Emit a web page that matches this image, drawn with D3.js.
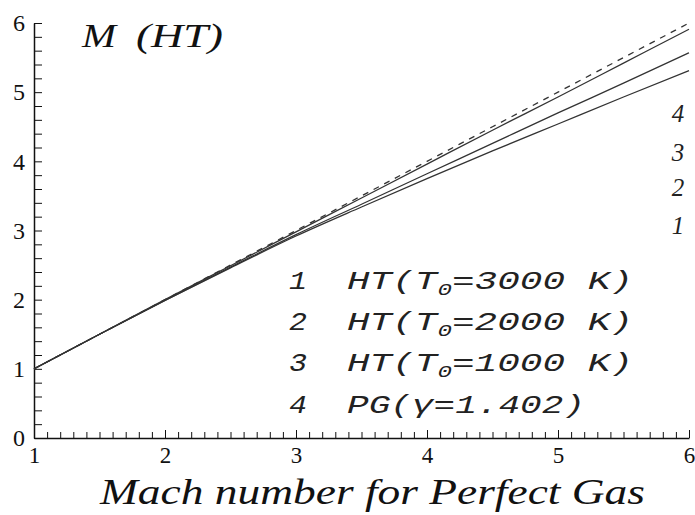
<!DOCTYPE html>
<html>
<head>
<meta charset="utf-8">
<script src="https://cdn.jsdelivr.net/npm/d3@7/dist/d3.min.js"></script>
<style>
  body { margin: 0; background: #fff; }
  svg { display: block; }
  .serif { font-family: "Liberation Serif", "DejaVu Serif", serif; }
  .mono  { font-family: "Liberation Mono", "DejaVu Sans Mono", monospace; }
</style>
</head>
<body>
<svg id="chart" width="695" height="515"></svg>
<script>
// Mach number of the perfect-gas flow (abscissa)
const machPG   = [1, 1.5, 2, 2.5, 3, 3.5, 4, 4.5, 5, 5.5, 6];
// Mach number at high temperature, for three stagnation temperatures
const mHT3000  = [1, 1.5, 1.99, 2.46, 2.92, 3.34, 3.75, 4.15, 4.54, 4.93, 5.31];
const mHT2000  = [1, 1.5, 1.99, 2.47, 2.94, 3.38, 3.82, 4.26, 4.70, 5.13, 5.57];
const mHT1000  = [1, 1.5, 2.00, 2.49, 2.98, 3.47, 3.96, 4.45, 4.93, 5.42, 5.91];
// Perfect gas with gamma = 1.402
const mPG1402  = [1, 1.5, 2, 2.5, 3, 3.5, 4, 4.5, 5, 5.5, 6];

const xTicks = [1, 2, 3, 4, 5, 6];
const yTicks = [0, 1, 2, 3, 4, 5, 6];
const legendNums  = ["1", "2", "3", "4"];
const legendTemps = ["3000", "2000", "1000"];
const gammaValue  = "1.402";
const curveNums   = ["4", "3", "2", "1"];

const svg = d3.select("#chart");
const x = d3.scaleLinear().domain([1, 6]).range([34, 689]);
const y = d3.scaleLinear().domain([0, 6]).range([438, 23]);

// ---- axes ----
const xMinor = d3.range(10, 61).map(v => v / 10);
const yMinor = d3.range(0, 31).map(v => v / 5);

svg.append("g").attr("transform", `translate(0,${y(0)})`)
  .call(d3.axisBottom(x).tickValues(xMinor).tickSize(-6).tickSizeOuter(0).tickFormat(""))
  .call(g => g.select(".domain").attr("stroke", "#111").attr("stroke-width", 1.5))
  .call(g => g.selectAll(".tick line").attr("stroke", "#111").attr("stroke-width", 1));

svg.append("g").attr("transform", `translate(0,${y(0)})`)
  .attr("font-family", null).attr("font-size", null)
  .call(d3.axisBottom(x).tickValues(xTicks).tickSize(-8).tickSizeOuter(0).tickPadding(9).tickFormat(d3.format("d")))
  .call(g => g.attr("font-family", null).attr("font-size", null))
  .call(g => g.select(".domain").remove())
  .call(g => g.selectAll(".tick line").attr("stroke", "#111").attr("stroke-width", 1))
  .call(g => g.selectAll(".tick text").attr("class", "serif").style("font-size", "23px").attr("fill", "#111"));

svg.append("g").attr("transform", `translate(${x(1)},0)`)
  .call(d3.axisLeft(y).tickValues(yMinor).tickSize(-8).tickSizeOuter(0).tickFormat(""))
  .call(g => g.select(".domain").attr("stroke", "#111").attr("stroke-width", 1.5))
  .call(g => g.selectAll(".tick line").attr("stroke", "#111").attr("stroke-width", 1));

svg.append("g").attr("transform", `translate(${x(1)},0)`)
  .call(d3.axisLeft(y).tickValues(yTicks).tickSize(0).tickSizeOuter(0).tickPadding(9).tickFormat(d3.format("d")))
  .call(g => g.attr("font-family", null).attr("font-size", null))
  .call(g => g.select(".domain").remove())
  .call(g => g.selectAll(".tick text").attr("class", "serif").style("font-size", "24px").attr("fill", "#111"));

// ---- curves ----
const line = d3.line().x(d => x(d[0])).y(d => y(d[1])).curve(d3.curveMonotoneX);
const series = [
  { vals: mHT3000, dash: null },
  { vals: mHT2000, dash: null },
  { vals: mHT1000, dash: null },
  { vals: mPG1402, dash: "6,6" }
];
series.forEach(s => {
  svg.append("path")
    .attr("d", line(machPG.map((m, i) => [m, s.vals[i]])))
    .attr("fill", "none")
    .attr("stroke", "#333")
    .attr("stroke-width", 1.3)
    .attr("stroke-dasharray", s.dash);
});

// ---- curve numbers on the right ----
const curveBase = [122, 161, 196, 234];
curveNums.forEach((n, i) => {
  svg.append("text").attr("class", "serif").attr("x", 678).attr("y", curveBase[i])
    .attr("text-anchor", "middle")
    .style("font-style", "italic").style("font-size", "25px")
    .attr("fill", "#222").text(n);
});

// ---- title ----
svg.append("text").attr("class", "serif").attr("x", 82).attr("y", 47)
  .style("font-style", "italic").style("font-size", "34px")
  .attr("textLength", 34).attr("lengthAdjust", "spacingAndGlyphs")
  .attr("fill", "#111").text("M");
svg.append("text").attr("class", "serif").attr("x", 136).attr("y", 47)
  .style("font-style", "italic").style("font-size", "34px")
  .attr("textLength", 87).attr("lengthAdjust", "spacingAndGlyphs")
  .attr("fill", "#111").text("(HT)");

// ---- x axis title ----
svg.append("text").attr("class", "serif").attr("x", 100).attr("y", 504)
  .style("font-style", "italic").style("font-size", "36px")
  .attr("textLength", 545).attr("lengthAdjust", "spacingAndGlyphs")
  .attr("fill", "#111").text("Mach number for Perfect Gas");

// ---- legend ----
const legBase = [289, 330, 371, 413];
legendNums.forEach((n, i) => {
  svg.append("text").attr("class", "mono").attr("x", 289).attr("y", legBase[i])
    .style("font-style", "italic").style("font-size", "25px")
    .attr("textLength", 18).attr("lengthAdjust", "spacingAndGlyphs")
    .attr("fill", "#222").text(n);
});
legendTemps.forEach((t, i) => {
  const tx = svg.append("text").attr("class", "mono").attr("x", 347).attr("y", legBase[i])
    .style("font-style", "italic").style("font-size", "25px")
    .attr("textLength", 286).attr("lengthAdjust", "spacingAndGlyphs")
    .attr("fill", "#222");
  tx.append("tspan").text("HT(T");
  tx.append("tspan").style("font-size", "16px").attr("dy", 6).text("0");
  tx.append("tspan").attr("dy", -6).text(`=${t} K)`);
});
svg.append("text").attr("class", "mono").attr("x", 347).attr("y", legBase[3])
  .style("font-style", "italic").style("font-size", "25px")
  .attr("textLength", 238).attr("lengthAdjust", "spacingAndGlyphs")
  .attr("fill", "#222").text(`PG(\u03b3=${gammaValue})`);
</script>
</body>
</html>
